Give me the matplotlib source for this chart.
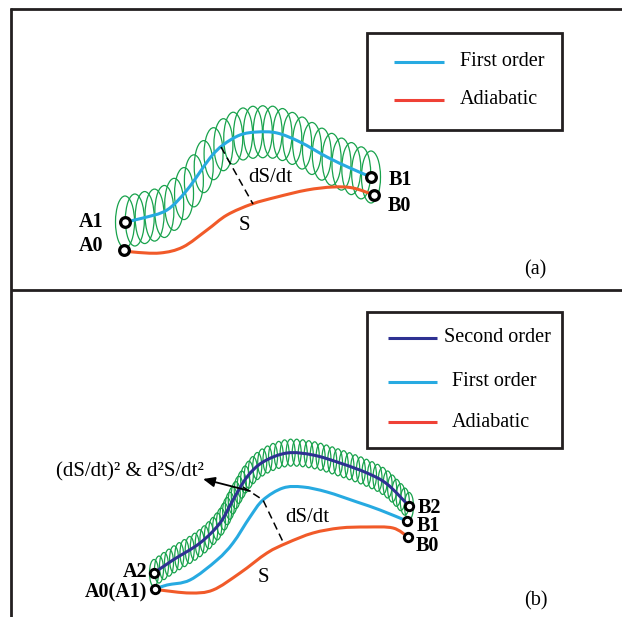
import numpy as np
import matplotlib
matplotlib.use("Agg")
import matplotlib.pyplot as plt
from matplotlib.path import Path
from matplotlib.patches import PathPatch, Ellipse, Rectangle

# ---------------- data (pixel coordinates) ----------------
# Panel (a)
a_first_x = [125, 143, 167, 187, 210, 223, 240, 257, 277, 300, 327, 350, 371]
a_first_y = [222, 218, 210, 190, 158, 145, 135, 132, 133, 142, 157, 168, 177]
a_adiab_x = [124, 133, 160, 183, 207, 227, 252, 277, 307, 333, 353, 374]
a_adiab_y = [250, 252, 253, 247, 230, 215, 204, 197, 190, 187, 188, 195]
a_dash_x = [221, 253]
a_dash_y = [147, 204]
a_points = {"A1": (125, 222), "A0": (124, 250), "B1": (371, 177), "B0": (374, 195)}
a_rings = 26

# Panel (b)
b_second_x = [154, 173, 200, 220, 233, 247, 263, 287, 313, 340, 367, 387, 409]
b_second_y = [573, 560, 543, 523, 500, 477, 462, 453, 455, 463, 473, 484, 506]
b_first_x = [155, 167, 190, 217, 233, 250, 263, 283, 303, 327, 357, 380, 407]
b_first_y = [589, 585, 580, 560, 543, 517, 500, 488, 487, 492, 502, 510, 521]
b_adiab_x = [155, 160, 190, 213, 240, 267, 287, 313, 340, 367, 393, 408]
b_adiab_y = [589, 590, 593, 590, 573, 553, 543, 533, 528, 527, 528, 537]
b_dash_x = [243, 263, 284]
b_dash_y = [487, 500, 544]
b_arrow = ((250, 491), (203, 479))
b_points = {"A2": (154, 573), "A0(A1)": (155, 589), "B2": (409, 506), "B1": (407, 521), "B0": (408, 537)}
b_rings = 54

legend_a = ["First order", "Adiabatic"]
legend_b = ["Second order", "First order", "Adiabatic"]

# ---------------- style ----------------
C_FIRST = "#27AAE1"
C_ADIAB = "#F15A29"
C_ADIAB_LEG = "#EF4136"
C_SECOND = "#2E3192"
C_GREEN = "#18A24C"
C_FRAME = "#231F20"
FONT = "Liberation Serif"

fig = plt.figure(figsize=(6.22, 6.17), dpi=100)
ax = fig.add_axes([0, 0, 1, 1])
ax.set_xlim(0, 622)
ax.set_ylim(617, 0)
ax.axis("off")


def smooth_path(xs, ys):
    P = np.column_stack([xs, ys]).astype(float)
    n = len(P)
    verts = [P[0]]
    codes = [Path.MOVETO]
    for i in range(n - 1):
        p0 = P[i - 1] if i > 0 else P[i]
        p1 = P[i]
        p2 = P[i + 1]
        p3 = P[i + 2] if i + 2 < n else P[i + 1]
        c1 = p1 + (p2 - p0) / 6.0
        c2 = p2 - (p3 - p1) / 6.0
        verts += [c1, c2, p2]
        codes += [Path.CURVE4] * 3
    return Path(np.array(verts), codes)


def draw_curve(xs, ys, color, lw=2.2, z=3):
    path = smooth_path(xs, ys)
    ax.add_patch(PathPatch(path, fill=False, edgecolor=color, lw=lw, zorder=z,
                           capstyle="round", joinstyle="round"))
    return path


def sample_path(path, per=60):
    pts = []
    for seg, code in path.iter_bezier():
        t = np.linspace(0, 1, per)
        pts.append(np.atleast_2d(seg.point_at_t(t)))
    return np.vstack(pts)


def draw_rings(path, n, w, h, by_arc=False):
    pts = sample_path(path)
    if by_arc:
        d = np.r_[0, np.cumsum(np.hypot(np.diff(pts[:, 0]), np.diff(pts[:, 1])))]
        s = np.linspace(0, d[-1], n)
        cx = np.interp(s, d, pts[:, 0])
        cy = np.interp(s, d, pts[:, 1])
    else:
        order = np.argsort(pts[:, 0])
        px, py = pts[order, 0], pts[order, 1]
        cx = np.linspace(px[0], px[-1], n)
        cy = np.interp(cx, px, py)
    for x, y in zip(cx, cy):
        ax.add_patch(Ellipse((x, y), w, h, fill=False, edgecolor=C_GREEN, lw=0.9, zorder=2))


def draw_points(pts, ms, mew, labels):
    for name, (x, y) in pts.items():
        ax.plot([x], [y], marker="o", ms=ms, mew=mew, mfc="white", mec="black", zorder=6)
    for name, (tx, ty, ha) in labels.items():
        ax.text(tx, ty, name, fontsize=14.5, fontweight="bold", family=FONT,
                ha=ha, va="center", zorder=7)


# ---------------- frame ----------------
ax.plot([10, 622], [8.5, 8.5], color=C_FRAME, lw=2, solid_capstyle="butt")
ax.plot([11, 11], [8, 617], color=C_FRAME, lw=2, solid_capstyle="butt")
ax.plot([11, 622], [289.5, 289.5], color=C_FRAME, lw=2, solid_capstyle="butt")

# ---------------- panel (a) ----------------
pa = draw_curve(a_first_x, a_first_y, C_FIRST)
draw_curve(a_adiab_x, a_adiab_y, C_ADIAB)
draw_rings(pa, a_rings, 19, 52)
ax.plot(a_dash_x, a_dash_y, color="black", lw=1.1, ls=(0, (5, 3)), zorder=4)
ax.text(270, 178, "dS/dt", fontsize=15, family=FONT, ha="center", va="center")
ax.text(244, 226, "S", fontsize=15, family=FONT, ha="center", va="center")
draw_points(a_points, 7, 2.3,
            {"A1": (103, 222, "right"), "A0": (103, 246, "right"),
             "B1": (389, 180, "left"), "B0": (388, 206, "left")})
ax.text(535.5, 269.5, "(a)", fontsize=14.5, family=FONT, ha="center", va="center")

ax.add_patch(Rectangle((367, 32.7), 194.5, 97.3, fill=False, edgecolor=C_FRAME, lw=2, zorder=5))
leg_a_y = [61.7, 100]
leg_a_c = [C_FIRST, C_ADIAB_LEG]
for lab, y, c in zip(legend_a, leg_a_y, leg_a_c):
    ax.plot([394, 444], [y, y], color=c, lw=2.2, solid_capstyle="butt")
    ax.text(459.5, y, lab, fontsize=14.5, family=FONT, ha="left", va="center")

# ---------------- panel (b) ----------------
pb = draw_curve(b_second_x, b_second_y, C_SECOND)
draw_curve(b_first_x, b_first_y, C_FIRST)
draw_curve(b_adiab_x, b_adiab_y, C_ADIAB)
draw_rings(pb, b_rings, 9, 27, by_arc=True)
ax.plot(b_dash_x, b_dash_y, color="black", lw=1.1, ls=(0, (5, 3)), zorder=4)
ax.annotate("", xy=b_arrow[1], xytext=b_arrow[0],
            arrowprops=dict(arrowstyle="-|>,head_length=0.7,head_width=0.3",
                            color="black", lw=1.3, shrinkA=0, shrinkB=0), zorder=5)
ax.text(129.5, 472, "(dS/dt)² & d²S/dt²", fontsize=15, family=FONT, ha="center", va="center")
ax.text(307, 517, "dS/dt", fontsize=15, family=FONT, ha="center", va="center")
ax.text(263, 577, "S", fontsize=15, family=FONT, ha="center", va="center")
draw_points(b_points, 6, 2.1,
            {"A2": (147, 572, "right"), "A0(A1)": (147, 592, "right"),
             "B2": (418, 508, "left"), "B1": (417, 526, "left"), "B0": (416, 546, "left")})
ax.text(535.5, 601, "(b)", fontsize=14.5, family=FONT, ha="center", va="center")

ax.add_patch(Rectangle((366.7, 312.3), 195, 136, fill=False, edgecolor=C_FRAME, lw=2, zorder=5))
leg_b_y = [338, 381.5, 422.3]
leg_b_c = [C_SECOND, C_FIRST, C_ADIAB_LEG]
leg_b_tx = [444, 452, 452]
for lab, y, c, tx in zip(legend_b, leg_b_y, leg_b_c, leg_b_tx):
    ax.plot([388, 437], [y, y], color=c, lw=2.2, solid_capstyle="butt")
    ax.text(tx, y, lab, fontsize=14.5, family=FONT, ha="left", va="center")

fig.savefig("out.png", dpi=100)
